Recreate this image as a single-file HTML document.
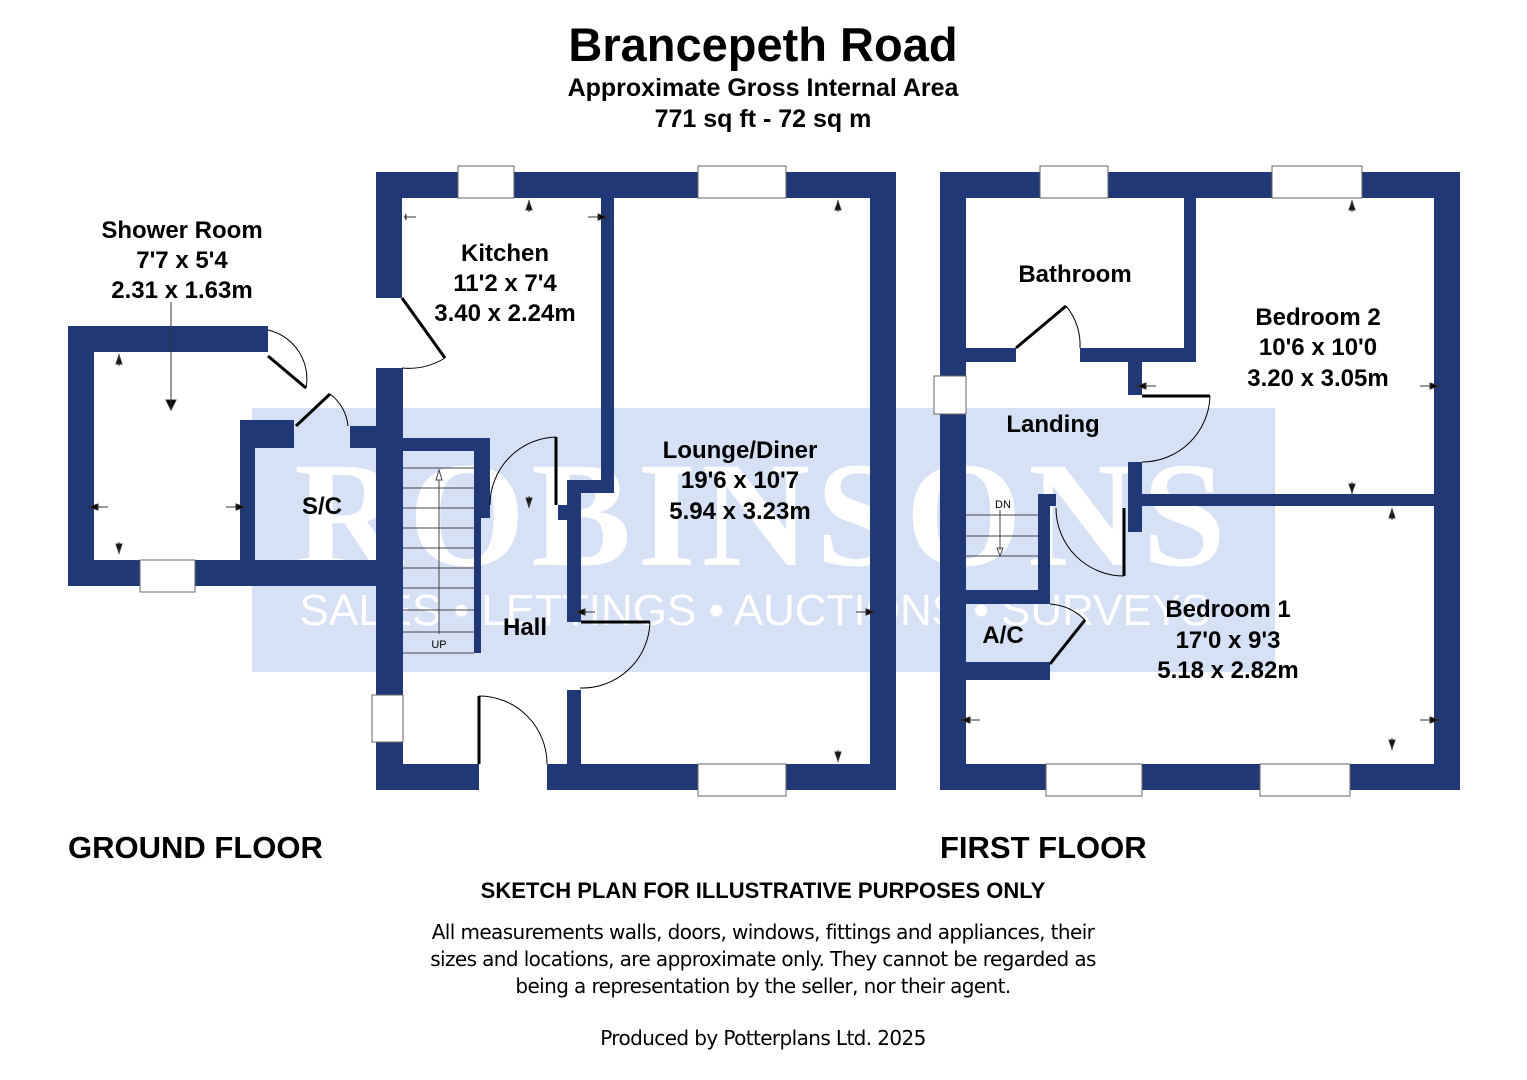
<!DOCTYPE html>
<html><head><meta charset="utf-8"><style>
body{margin:0;background:#fff;}
svg{display:block;font-family:"Liberation Sans",Arial,sans-serif;}
</style></head><body>
<svg width="1527" height="1080" viewBox="0 0 1527 1080" xmlns="http://www.w3.org/2000/svg">
<rect width="1527" height="1080" fill="#fff"/>
<!-- watermark -->
<rect x="252" y="408" width="1023" height="264" fill="#d6e1f6"/>
<text x="763" y="565" font-family="Liberation Serif,serif" font-weight="bold" font-size="150" fill="#fff" text-anchor="middle" letter-spacing="6">ROBINSONS</text>
<text x="755" y="625" font-size="44" fill="#fff" text-anchor="middle">SALES • LETTINGS • AUCTIONS • SURVEYS</text>

<g fill="#213876">
<rect x="376" y="172" width="520" height="26"/>
<rect x="376" y="172" width="26" height="126"/>
<rect x="376" y="368" width="27" height="422"/>
<rect x="376" y="764" width="103" height="26"/>
<rect x="547" y="764" width="349" height="26"/>
<rect x="870" y="172" width="26" height="618"/>
<rect x="601" y="198" width="13" height="294"/>
<rect x="567" y="480" width="47" height="13"/>
<rect x="567" y="480" width="14" height="142"/>
<rect x="567" y="690" width="14" height="74"/>
<rect x="558" y="505" width="10" height="15"/>
<rect x="402" y="438" width="88" height="13"/>
<rect x="474" y="438" width="16" height="80"/>
<rect x="474" y="438" width="7" height="215"/>
<rect x="68" y="326" width="200" height="26"/>
<rect x="68" y="326" width="26" height="260"/>
<rect x="68" y="560" width="335" height="26"/>
<rect x="240" y="420" width="15" height="150"/>
<rect x="240" y="420" width="54" height="28"/>
<rect x="350" y="426" width="53" height="22"/>
<rect x="940" y="172" width="520" height="26"/>
<rect x="940" y="172" width="26" height="618"/>
<rect x="1434" y="172" width="26" height="618"/>
<rect x="940" y="764" width="520" height="26"/>
<rect x="1184" y="198" width="12" height="164"/>
<rect x="966" y="348" width="50" height="14"/>
<rect x="1080" y="348" width="116" height="14"/>
<rect x="1128" y="362" width="14" height="33"/>
<rect x="1128" y="494" width="306" height="12"/>
<rect x="1128" y="462" width="14" height="70"/>
<rect x="1038" y="494" width="18" height="12"/>
<rect x="1038" y="494" width="12" height="110"/>
<rect x="966" y="590" width="84" height="14"/>
<rect x="966" y="662" width="84" height="18"/>
</g>
<g fill="#fff" stroke="#666" stroke-width="1">
<rect x="458" y="166" width="56" height="32"/>
<rect x="698" y="166" width="88" height="32"/>
<rect x="698" y="764" width="88" height="32"/>
<rect x="140" y="560" width="55" height="32"/>
<rect x="372" y="695" width="31" height="47"/>
<rect x="1040" y="166" width="68" height="32"/>
<rect x="1272" y="166" width="90" height="32"/>
<rect x="1046" y="764" width="96" height="32"/>
<rect x="1260" y="764" width="90" height="32"/>
<rect x="934" y="376" width="32" height="38"/>
</g>
<g stroke="#444" stroke-width="1" fill="none">
<path d="M403 468H474M403 488H474M403 508H474M403 528H474M403 548H474M403 568H474M403 588H474M403 610H474M403 632H474M403 653H474M439 634V480"/>
<path d="M966 515H1038M966 536H1038M966 556H1038M1000 510V550"/>
<path d="M436 480l3 -10 3 10z M997 548l3 8 3 -8z"/>
</g>
<text x="439" y="648" font-size="11" text-anchor="middle">UP</text>
<text x="1003" y="508" font-size="11" text-anchor="middle">DN</text>
<g stroke="#000" fill="none">
<path d="M402 298L445 358" stroke-width="3"/><path d="M445 358A70 70 0 0 1 402 368" stroke-width="1"/>
<path d="M268 356L306 388" stroke-width="3"/><path d="M268 330A50 50 0 0 1 306 388" stroke-width="1"/>
<path d="M296 426L330 394" stroke-width="3"/><path d="M330 394A45 45 0 0 1 348 426" stroke-width="1"/>
<path d="M556 437V505" stroke-width="3"/><path d="M556 437A68 68 0 0 0 490 505" stroke-width="1"/>
<path d="M581 622H650" stroke-width="3"/><path d="M650 622A68 68 0 0 1 580 688" stroke-width="1"/>
<path d="M479 696V764" stroke-width="3"/><path d="M479 696A68 68 0 0 1 547 764" stroke-width="1"/>
<path d="M1016 348L1066 306" stroke-width="3"/><path d="M1066 306A60 60 0 0 1 1080 348" stroke-width="1"/>
<path d="M1142 396H1210" stroke-width="3"/><path d="M1210 396A68 68 0 0 1 1142 462" stroke-width="1"/>
<path d="M1124 508V576" stroke-width="3"/><path d="M1124 576A68 68 0 0 1 1056 508" stroke-width="1"/>
<path d="M1050 664L1085 620" stroke-width="3"/><path d="M1050 604A55 55 0 0 1 1085 620" stroke-width="1"/>
</g>
<g stroke="#333" stroke-width="1" fill="#000">
<path d="M171 302V410M166 400l5 10 5 -10z"/>
<path d="M838 200v12M835 210l3 -9 3 9z M1352 200v12M1349 210l3 -9 3 9z M1392 508v12M1389 518l3 -9 3 9z M529 200v12M526 210l3 -9 3 9z M119 354v12M116 364l3 -9 3 9z"/>
<path d="M838 750v12M835 752l3 9 3 -9z M1352 482v12M1349 484l3 9 3 -9z M1392 738v12M1389 740l3 9 3 -9z M529 496v12M526 498l3 9 3 -9z M119 542v12M116 544l3 9 3 -9z"/>
<path d="M404 217h12M406 214l-1 3 1 3z M96 507h12M98 504l-9 3 9 3z M583 612h12M585 609l-9 3 9 3z M1144 386h12M1146 383l-9 3 9 3z M968 720h12M970 717l-9 3 9 3z"/>
<path d="M588 217h12M598 214l9 3 -9 3z M226 507h12M236 504l9 3 -9 3z M856 612h12M866 609l9 3 -9 3z M1420 386h12M1430 383l9 3 -9 3z M1420 720h12M1430 717l9 3 -9 3z"/>
</g>
<g font-weight="bold" text-anchor="middle" fill="#000">
<text x="763" y="61" font-size="47">Brancepeth Road</text>
<text x="763" y="96" font-size="25">Approximate Gross Internal Area</text>
<text x="763" y="127" font-size="25">771 sq ft - 72 sq m</text>
<g font-size="24">
<text x="182" y="238">Shower Room</text><text x="182" y="268">7'7 x 5'4</text><text x="182" y="298">2.31 x 1.63m</text>
<text x="505" y="261">Kitchen</text><text x="505" y="291">11'2 x 7'4</text><text x="505" y="321">3.40 x 2.24m</text>
<text x="740" y="458">Lounge/Diner</text><text x="740" y="488">19'6 x 10'7</text><text x="740" y="519">5.94 x 3.23m</text>
<text x="322" y="514">S/C</text>
<text x="525" y="635">Hall</text>
<text x="1075" y="282">Bathroom</text>
<text x="1318" y="325">Bedroom 2</text><text x="1318" y="355">10'6 x 10'0</text><text x="1318" y="386">3.20 x 3.05m</text>
<text x="1053" y="432">Landing</text>
<text x="1003" y="643">A/C</text>
<text x="1228" y="617">Bedroom 1</text><text x="1228" y="648">17'0 x 9'3</text><text x="1228" y="678">5.18 x 2.82m</text>
</g>
<text x="68" y="858" font-size="31" text-anchor="start">GROUND FLOOR</text>
<text x="940" y="858" font-size="31" text-anchor="start">FIRST FLOOR</text>
<text x="763" y="898" font-size="22">SKETCH PLAN FOR ILLUSTRATIVE PURPOSES ONLY</text>
</g>
<g text-anchor="middle" font-size="20" fill="#000" font-family="DejaVu Sans,Liberation Sans,sans-serif" letter-spacing="-0.6">
<text x="763" y="939">All measurements walls, doors, windows, fittings and appliances, their</text>
<text x="763" y="966">sizes and locations, are approximate only. They cannot be regarded as</text>
<text x="763" y="993">being a representation by the seller, nor their agent.</text>
<text x="763" y="1045">Produced by Potterplans Ltd. 2025</text>
</g>
</svg>
</body></html>
